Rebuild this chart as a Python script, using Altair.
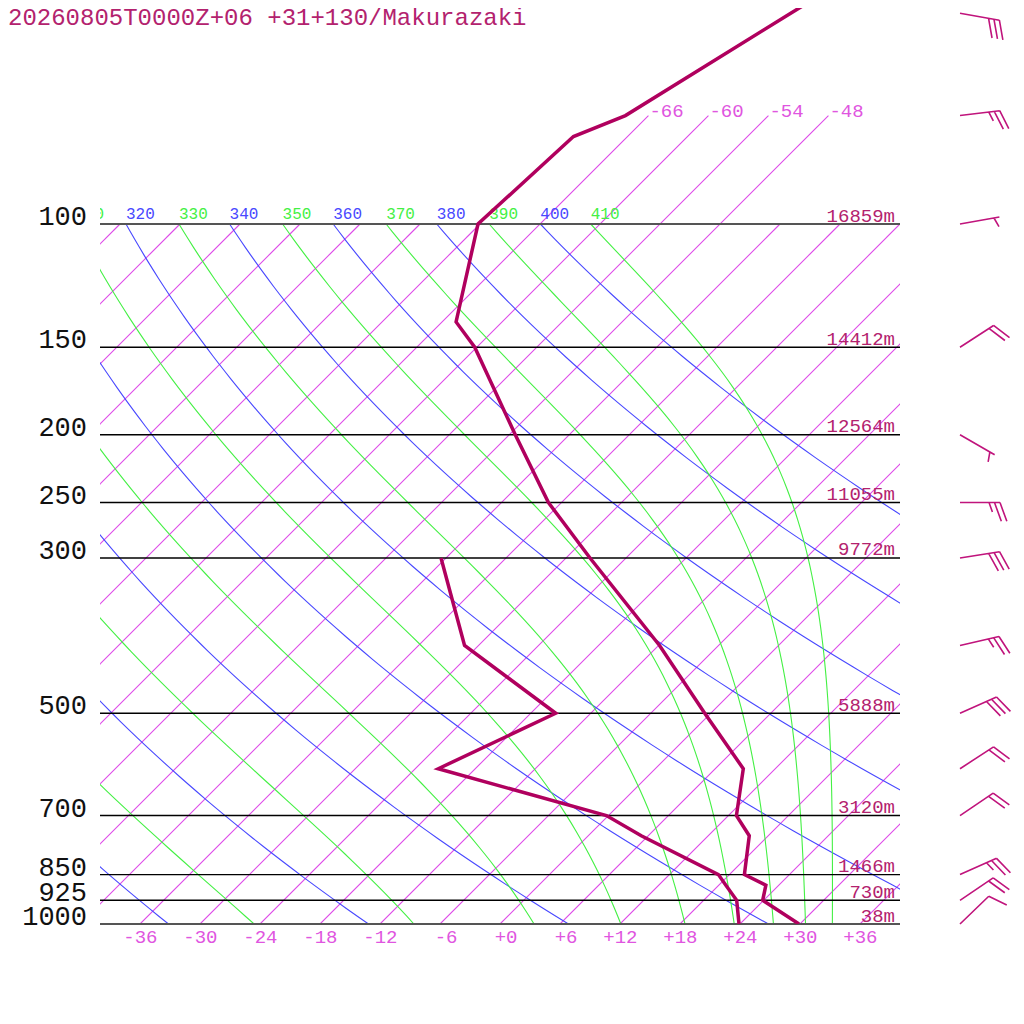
import math
import numpy as np
import pandas as pd
import altair as alt

TITLE = "20260805T0000Z+06 +31+130/Makurazaki"

# ---- sounding data ----
temp_p = [40, 50, 70, 75, 100, 138, 150, 200, 250, 300, 400, 500, 600, 700, 748, 850, 880, 925, 1000]
temp_t = [-57.8, -62.0, -68.3, -71.4, -72.2, -64.6, -60.2, -47.4, -37.3, -27.6, -11.9, -0.6, 8.8, 12.8, 16.1, 19.5, 22.7, 23.9, 29.9]

dew_p = [300, 400, 500, 600, 700, 748, 850, 880, 925, 1000]
dew_t = [-42.5, -31.4, -15.5, -21.7, -0.2, 5.3, 16.9, 18.7, 21.3, 23.9]

wind_p = [50, 70, 100, 150, 200, 250, 300, 400, 500, 600, 700, 850, 925, 1000]
wind_dir = [100, 83, 80, 57, 120, 90, 81, 77, 66, 57, 56, 66, 56, 46]
wind_kt = [30, 25, 5, 20, 5, 25, 30, 25, 30, 20, 20, 25, 20, 10]

level_p = [100, 150, 200, 250, 300, 500, 700, 850, 925, 1000]
level_h = ["16859m", "14412m", "12564m", "11055m", "9772m", "5888m", "3120m", "1466m", "730m", "38m"]

# ---- diagram background definitions ----
iso_t = list(range(-108, 37, 6))
iso_labeled = [-66, -60, -54, -48]
theta_dry = [240, 260, 280, 300, 320, 340, 360, 380, 400]
theta_moist = [250, 270, 290, 310, 330, 350, 370, 390, 410]
temp_ticks = [-36, -30, -24, -18, -12, -6, 0, 6, 12, 18, 24, 30, 36]

KAPPA = 0.2857
SKEW = 70.0
P_TOP = 10 ** (3 - 916 / 700.0)

FONT = "Liberation Mono"
C_PROF = "#b0005e"
C_TEXT = "#b3226e"
C_BARB = "#c0147c"
C_ISO = "#dd4ae8"
C_ISO_T = "#e055e0"
C_BLUE = "#4848ff"
C_GREEN = "#44f044"


def skew_x(t, p):
    return np.asarray(t, float) + SKEW * np.log10(1000.0 / np.asarray(p, float))


def theta_e(tk, p):
    tc = tk - 273.15
    es = 6.112 * np.exp(17.67 * tc / (tc + 243.5))
    bad = es >= 0.8 * p
    es = np.where(bad, 0.0, es)
    r = 0.622 * es / (p - es)
    th = tk * (1000.0 / p) ** (0.2854 * (1 - 0.28 * r))
    val = th * np.exp((3.376 / tk - 0.00254) * r * 1000 * (1 + 0.81 * r))
    return np.where(bad, 1e6, val)


def moist_t(the, P):
    lo = np.full(P.shape, 150.0)
    hi = np.full(P.shape, 340.0)
    for _ in range(70):
        mid = 0.5 * (lo + hi)
        f = theta_e(mid, P) > the
        hi = np.where(f, mid, hi)
        lo = np.where(f, lo, mid)
    return 0.5 * (lo + hi) - 273.15


P = np.geomspace(1000, 100, 91)
LAB_MIN = -43.0  # labels starting further left are entirely outside the plot

# isotherms
rows = []
for t in iso_t:
    top = 70 if t in iso_labeled else 100
    for k, pp in enumerate([1000, top]):
        rows.append({"id": t, "k": k, "p": pp, "xd": float(skew_x(t, pp))})
iso_df = pd.DataFrame(rows)
iso_lab_df = pd.DataFrame({
    "p": [70] * len(iso_labeled),
    "xd": [float(skew_x(t, 70)) for t in iso_labeled],
    "txt": ["%d" % t for t in iso_labeled],
})

# dry adiabats
rows = []
for th in theta_dry:
    T = th * (P / 1000.0) ** KAPPA - 273.15
    X = skew_x(T, P)
    for k in range(len(P)):
        rows.append({"id": th, "k": k, "p": float(P[k]), "xd": float(X[k])})
dry_df = pd.DataFrame(rows)
dlab = [(float(skew_x(th * 0.1 ** KAPPA - 273.15, 100)), str(th)) for th in theta_dry]
dlab = [d for d in dlab if d[0] > LAB_MIN]
dry_lab = pd.DataFrame({"p": [100] * len(dlab), "xd": [d[0] for d in dlab], "txt": [d[1] for d in dlab]})

# moist adiabats
rows = []
mlab = []
for th in theta_moist:
    T = moist_t(th, P)
    X = skew_x(T, P)
    if X[-1] > LAB_MIN:
        mlab.append((float(X[-1]), str(th)))
    for k in range(len(P)):
        rows.append({"id": th, "k": k, "p": float(P[k]), "xd": float(X[k])})
moist_df = pd.DataFrame(rows)
moist_lab = pd.DataFrame({"p": [100] * len(mlab), "xd": [m[0] for m in mlab], "txt": [m[1] for m in mlab]})

# profiles
temp_df = pd.DataFrame({"p": temp_p, "xd": skew_x(temp_t, temp_p), "k": range(len(temp_p))})
dew_df = pd.DataFrame({"p": dew_p, "xd": skew_x(dew_t, dew_p), "k": range(len(dew_p))})

# levels
lev_df = pd.DataFrame({"p": level_p, "txt": [str(p) for p in level_p], "h": level_h,
                       "edge": [p in (100, 1000) for p in level_p]})

# bottom tick labels
tick_df = pd.DataFrame({"xd": temp_ticks,
                        "txt": [("+%d" % t) if t >= 0 else ("%d" % t) for t in temp_ticks]})


# wind barbs as custom symbol paths (pixel units with size=4)
def barb_path(direction, speed):
    rad = math.radians(direction)
    dx, dy = math.sin(rad), -math.cos(rad)
    L, B, S = 40.0, 20.0, 5.5
    a = math.radians(70)
    bx = dx * math.cos(a) - dy * math.sin(a)
    by = dx * math.sin(a) + dy * math.cos(a)
    parts = ["M0,0L%.2f,%.2f" % (L * dx, L * dy)]
    full = int(speed // 10)
    half = (speed % 10) >= 5
    pos = L
    for _ in range(full):
        sx, sy = pos * dx, pos * dy
        parts.append("M%.2f,%.2fL%.2f,%.2f" % (sx, sy, sx + B * bx, sy + B * by))
        pos -= S
    if half:
        if full == 0:
            pos = L - S
        sx, sy = pos * dx, pos * dy
        parts.append("M%.2f,%.2fL%.2f,%.2f" % (sx, sy, sx + B / 2 * bx, sy + B / 2 * by))
    return "".join(parts)


wind_df = pd.DataFrame({"p": wind_p, "path": [barb_path(d, s) for d, s in zip(wind_dir, wind_kt)]})

xs = alt.Scale(domain=[-40, 40], nice=False, zero=False)
ys = alt.Scale(type="log", domain=[P_TOP, 1000], nice=False, zero=False, reverse=True)


def X():
    return alt.X("xd:Q", scale=xs, axis=None)


def Y():
    return alt.Y("p:Q", scale=ys, axis=None)


iso = alt.Chart(iso_df).mark_line(color=C_ISO, stroke=C_ISO, strokeWidth=1.1, clip=True).encode(
    x=X(), y=Y(), detail="id:N", order="k:Q")
dry = alt.Chart(dry_df).mark_line(color=C_BLUE, strokeWidth=1.1, clip=True).encode(
    x=X(), y=Y(), detail="id:N", order="k:Q")
moist = alt.Chart(moist_df).mark_line(color=C_GREEN, strokeWidth=1.1, clip=True).encode(
    x=X(), y=Y(), detail="id:N", order="k:Q")

lev_lines = alt.Chart(lev_df).mark_rule().encode(
    x=alt.value(0), x2=alt.value(800), y=Y(),
    color=alt.condition("datum.edge", alt.value("#555555"), alt.value("#000000")),
    strokeWidth=alt.condition("datum.edge", alt.value(2), alt.value(1.4)))

iso_txt = alt.Chart(iso_lab_df).mark_text(align="left", baseline="alphabetic", dx=1, dy=1,
                                          font=FONT, fontSize=19, color=C_ISO_T).encode(
    x=X(), y=Y(), text="txt:N")
dry_txt = alt.Chart(dry_lab).mark_text(align="left", baseline="alphabetic", dy=-5.5, clip=True,
                                       font=FONT, fontSize=16, color=C_BLUE).encode(
    x=X(), y=Y(), text="txt:N")
moist_txt = alt.Chart(moist_lab).mark_text(align="left", baseline="alphabetic", dy=-5.5, clip=True,
                                           font=FONT, fontSize=16, color=C_GREEN).encode(
    x=X(), y=Y(), text="txt:N")

p_txt = alt.Chart(lev_df).mark_text(align="right", baseline="alphabetic", dy=1,
                                    font=FONT, fontSize=27, color="#111111").encode(
    x=alt.value(-13), y=Y(), text="txt:N")
h_txt = alt.Chart(lev_df).mark_text(align="right", baseline="alphabetic", dy=-2.5,
                                    font=FONT, fontSize=19, color=C_TEXT).encode(
    x=alt.value(795), y=Y(), text="h:N")
t_txt = alt.Chart(tick_df).mark_text(align="right", baseline="alphabetic", dx=17.5,
                                     font=FONT, fontSize=19, color=C_ISO_T).encode(
    x=X(), y=alt.value(935), text="txt:N")

title = alt.Chart(pd.DataFrame({"txt": [TITLE]})).mark_text(
    align="left", baseline="alphabetic", font=FONT, fontSize=24, color=C_TEXT).encode(
    x=alt.value(-92), y=alt.value(17), text="txt:N")

temp_line = alt.Chart(temp_df).mark_line(color=C_PROF, strokeWidth=3.5, clip=True).encode(
    x=X(), y=Y(), order="k:Q")
dew_line = alt.Chart(dew_df).mark_line(color=C_PROF, strokeWidth=3.5, clip=True).encode(
    x=X(), y=Y(), order="k:Q")

barbs = alt.Chart(wind_df).mark_point(filled=False, strokeWidth=1.6, color=C_BARB, opacity=1).encode(
    x=alt.value(860), y=Y(),
    shape=alt.Shape("path:N", scale=None, legend=None),
    size=alt.value(4))

chart = alt.layer(
    iso, dry, moist, lev_lines, iso_txt, dry_txt, moist_txt, p_txt, h_txt, t_txt, title,
    temp_line, dew_line, barbs
).properties(
    width=800, height=916,
    padding={"left": 92, "top": 0, "right": 116, "bottom": 60},
    autosize=alt.AutoSizeParams(type="none"),
    background="white",
).configure_view(strokeWidth=0)

chart.save("out.html", embed_options={"renderer": "svg", "actions": False})
